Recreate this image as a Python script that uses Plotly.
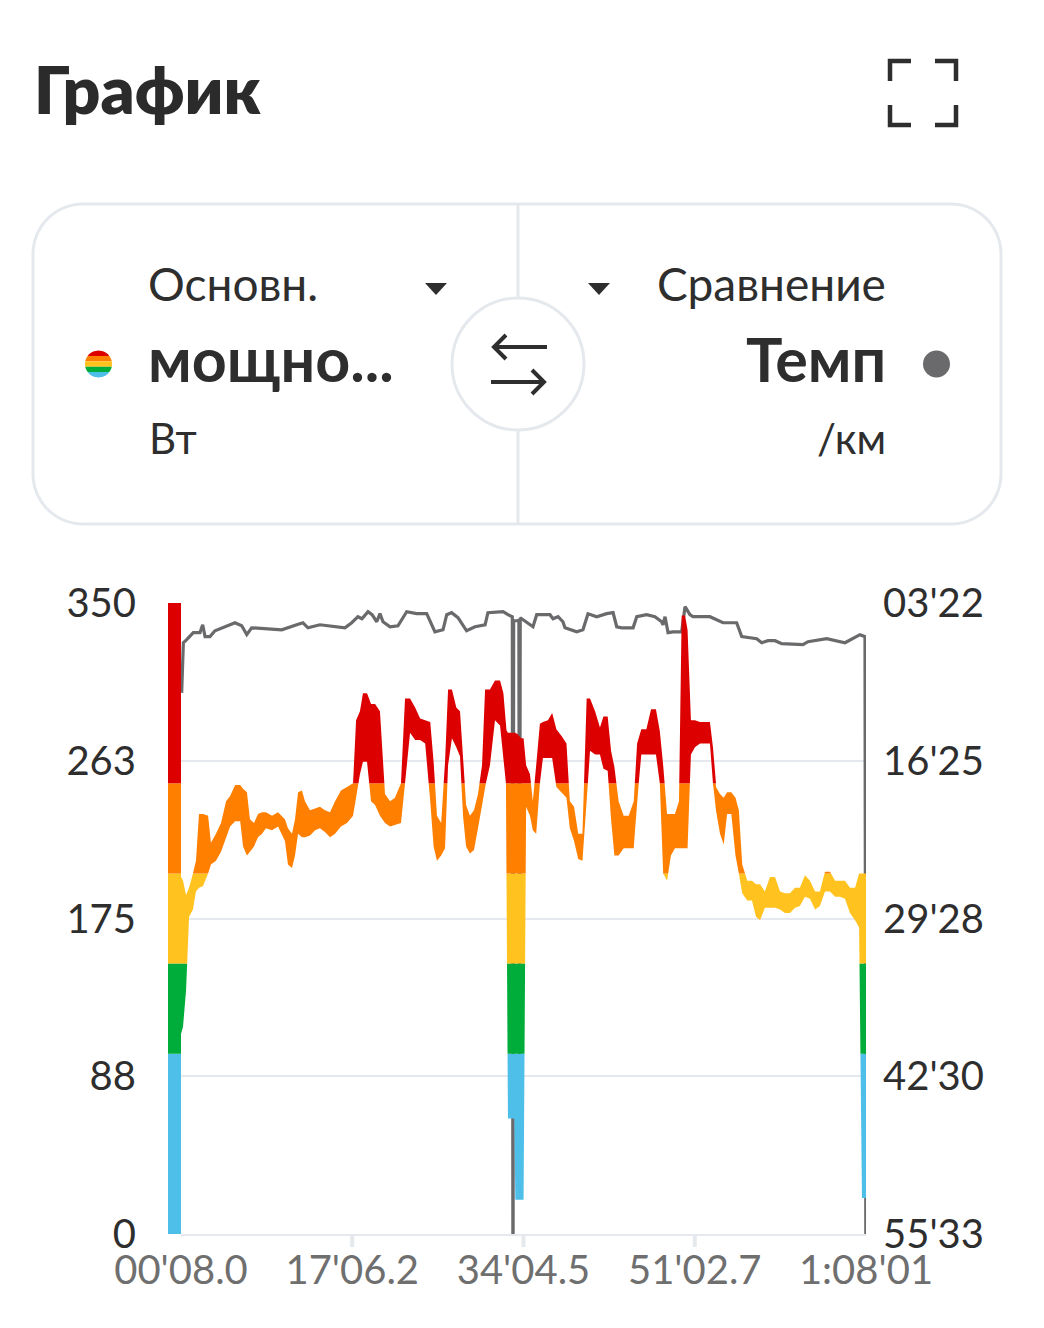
import numpy as np
import plotly.graph_objects as go

# ---------------- data ----------------
time_s = [8, 20, 38, 56, 79, 97, 115, 139, 169, 186, 216, 246, 276, 300, 330, 360, 377, 400, 418, 442,
          466, 490, 513, 549, 585, 626, 644, 668, 686, 704, 727, 745, 775, 805, 834, 864, 894, 924, 959, 995,
          1031, 1049, 1072, 1090, 1114, 1138, 1162, 1191, 1221, 1251, 1280, 1316, 1340, 1370, 1400, 1430, 1460, 1490, 1510, 1530,
          1555, 1578, 1596, 1619, 1645, 1667, 1685, 1703, 1726, 1750, 1774, 1798, 1816, 1845, 1875, 1905, 1925, 1940, 1952, 1970,
          1990, 1996, 2012, 2030, 2045, 2060, 2083, 2100, 2120, 2142, 2160, 2190, 2215, 2240, 2273, 2300, 2320, 2345, 2370, 2395,
          2420, 2440, 2470, 2499, 2520, 2545, 2565, 2585, 2610, 2640, 2670, 2700, 2720, 2745, 2775, 2803, 2832, 2855, 2875, 2898,
          2921, 2945, 2969, 2985, 3005, 3020, 3040, 3064, 3094, 3124, 3153, 3171, 3189, 3213, 3235, 3255, 3280, 3305, 3325, 3345,
          3375, 3403, 3427, 3451, 3480, 3510, 3540, 3570, 3599, 3629, 3659, 3688, 3718, 3748, 3778, 3807, 3837, 3867, 3897, 3926,
          3956, 3986, 4016, 4040, 4057, 4081]
power_hi = [198, 196, 188, 192, 200, 207, 233, 233, 232, 217, 222, 228, 240, 243, 249, 249, 247, 245, 230, 228,
            233, 234, 234, 232, 234, 230, 225, 222, 230, 245, 246, 240, 235, 236, 237, 235, 234, 240, 246, 248,
            250, 285, 290, 300, 300, 294, 294, 290, 244, 240, 242, 250, 297, 297, 292, 286, 285, 284, 262, 232,
            228, 262, 302, 302, 292, 290, 265, 238, 232, 235, 244, 260, 302, 302, 307, 307, 300, 280, 278, 278,
            278, 278, 277, 275, 275, 260, 255, 240, 260, 283, 284, 285, 289, 280, 276, 272, 240, 237, 222, 222,
            297, 297, 290, 281, 287, 287, 268, 259, 240, 232, 232, 240, 272, 280, 280, 291, 291, 279, 260, 233,
            233, 233, 240, 343, 343, 335, 285, 285, 284, 284, 284, 270, 248, 244, 242, 245, 245, 242, 235, 205,
            196, 196, 194, 194, 190, 198, 198, 190, 189, 189, 192, 192, 199, 196, 190, 190, 201, 201, 196, 196,
            196, 192, 192, 200, 200, 200]
power_lo = [111, 115, 135, 176, 180, 190, 192, 193, 200, 205, 207, 212, 220, 226, 229, 229, 215, 210, 212, 215,
            220, 222, 225, 224, 226, 218, 205, 203, 210, 222, 220, 220, 221, 224, 225, 223, 220, 222, 226, 228,
            232, 242, 255, 262, 262, 240, 238, 232, 228, 226, 227, 228, 250, 278, 274, 274, 272, 240, 215, 207,
            210, 214, 260, 275, 270, 265, 232, 215, 211, 213, 225, 238, 248, 260, 285, 282, 262, 250, 64, 64,
            64, 19, 19, 19, 19, 237, 232, 224, 222, 250, 264, 264, 264, 248, 245, 242, 225, 218, 208, 207,
            240, 268, 266, 266, 258, 257, 230, 210, 210, 214, 214, 214, 240, 266, 266, 266, 266, 250, 200, 196,
            210, 214, 214, 214, 214, 214, 266, 270, 272, 272, 272, 250, 235, 222, 216, 233, 233, 210, 200, 189,
            185, 185, 176, 174, 181, 181, 181, 180, 178, 178, 181, 182, 187, 186, 180, 182, 190, 190, 187, 187,
            186, 178, 174, 170, 20, 20]

pace_t = [12, 22, 42, 61, 81, 121, 137, 151, 180, 210, 280, 329, 369, 399, 428, 607, 696, 733, 763, 834,
          983, 1023, 1060, 1084, 1120, 1144, 1172, 1191, 1209, 1251, 1298, 1350, 1409, 1469, 1518, 1566, 1588, 1617, 1655, 1706,
          1756, 1816, 1833, 1923, 1952, 1978, 1982, 1986, 2012, 2017, 2021, 2025, 2101, 2123, 2202, 2220, 2250, 2279, 2291,
          2361, 2398, 2428, 2480, 2539, 2577, 2599, 2628, 2696, 2718, 2777, 2826, 2866, 2874, 2886, 2904, 2933, 2985, 3005, 3034,
          3052, 3153, 3193, 3231, 3312, 3342, 3431, 3461, 3498, 3540, 3580, 3706, 3736, 3847, 3956, 4004, 4045, 4075, 4081]
pace_s = [648, 399, 384, 369, 349, 349, 310, 369, 369, 340, 315, 300, 315, 359, 325, 335, 310, 300, 325, 310,
          325, 300, 270, 280, 245, 260, 295, 255, 295, 320, 315, 245, 255, 255, 345, 335, 260, 250, 275, 340,
          320, 310, 250, 245, 260, 270, 4000, 290, 290, 285, 2800, 275, 320, 260, 260, 280, 270, 295, 325,
          345, 335, 255, 270, 255, 250, 320, 325, 325, 270, 260, 270, 295, 310, 270, 349, 345, 345, 220, 260,
          270, 270, 285, 300, 300, 369, 379, 399, 389, 389, 404, 409, 394, 379, 399, 379, 359, 369, 4000]

zone_edges = [0, 100, 150, 200, 250, 350]
zone_colors = ['#4dbfe9', '#00ad3a', '#ffc21f', '#ff7f00', '#dc0000']

x_ticks = [8, 1026.2, 2044.5, 3062.7, 4081]
x_labels = ["00'08.0", "17'06.2", "34'04.5", "51'02.7", "1:08'01"]
power_ticks = [0, 87.5, 175, 262.5, 350]
power_labels = ['0', '88', '175', '263', '350']
pace_ticks = [3333, 2550.25, 1767.5, 984.75, 202]
pace_labels = ["55'33", "42'30", "29'28", "16'25", "03'22"]

# ---------------- layout geometry ----------------
W, H = 1044, 1328
PL, PR, PT, PB = 181, 866, 603, 1234
FONT = "Lato, 'Noto Sans', sans-serif"
DARK = '#2e2e2e'
GREY_TXT = '#6f6f6f'
GRID = '#e5e9ed'
PACE_COL = '#6a6a6d'


def fx(px):
    return (px - PL) / (PR - PL)


def fy(py):
    return (PB - py) / (PB - PT)


def path_from(pts, close=False):
    s = 'M ' + ' L '.join(f'{fx(x):.5f},{fy(y):.5f}' for x, y in pts)
    return s + (' Z' if close else '')


fig = go.Figure()

# pace line (primary y axis, drawn underneath)
fig.add_trace(go.Scatter(x=pace_t, y=pace_s, mode='lines', yaxis='y',
                         line=dict(color=PACE_COL, width=3.2), hoverinfo='skip', showlegend=False))

# power band coloured by zone: add the exact points where the band edges cross a zone
# boundary so each zone's clipped band joins its neighbours without gaps
tt, hh, ll = [time_s[0]], [power_hi[0]], [power_lo[0]]
for i in range(len(time_s) - 1):
    t0, t1 = time_s[i], time_s[i + 1]
    fracs = set()
    for arr in (power_hi, power_lo):
        v0, v1 = arr[i], arr[i + 1]
        for e in zone_edges[1:-1]:
            if (v0 - e) * (v1 - e) < 0:
                fracs.add((e - v0) / (v1 - v0))
    for f in sorted(fracs):
        tt.append(t0 + f * (t1 - t0))
        hh.append(power_hi[i] + f * (power_hi[i + 1] - power_hi[i]))
        ll.append(power_lo[i] + f * (power_lo[i + 1] - power_lo[i]))
    tt.append(t1)
    hh.append(power_hi[i + 1])
    ll.append(power_lo[i + 1])
hh = np.array(hh)
ll = np.array(ll)

for k, col in enumerate(zone_colors):
    a = zone_edges[k]
    b = zone_edges[k + 1] if k < len(zone_colors) - 1 else 10000
    fig.add_trace(go.Scatter(x=tt, y=np.clip(ll, a, b), mode='lines', yaxis='y2',
                             line=dict(width=0), hoverinfo='skip', showlegend=False))
    fig.add_trace(go.Scatter(x=tt, y=np.clip(hh, a, b), mode='lines', yaxis='y2',
                             line=dict(width=0), fill='tonexty', fillcolor=col,
                             hoverinfo='skip', showlegend=False))

shapes = []
# zone strip at left of plot
for k, col in enumerate(zone_colors):
    shapes.append(dict(type='rect', xref='paper', yref='paper', x0=fx(168), x1=fx(181),
                       y0=zone_edges[k] / zone_edges[-1], y1=zone_edges[k + 1] / zone_edges[-1],
                       fillcolor=col, line=dict(width=0), layer='above'))
# x tick marks (inner ticks only)
for v in x_ticks[1:-1]:
    xp = (v - x_ticks[0]) / (x_ticks[-1] - x_ticks[0])
    shapes.append(dict(type='line', xref='paper', yref='paper', x0=xp, x1=xp,
                       y0=fy(1234), y1=fy(1247), line=dict(color=GRID, width=4)))

# ---- header decorations ----
for pts in [[(890, 81), (890, 61), (911, 61)], [(935, 61), (956, 61), (956, 81)],
            [(890, 105), (890, 125), (911, 125)], [(935, 125), (956, 125), (956, 105)]]:
    shapes.append(dict(type='path', xref='paper', yref='paper', path=path_from(pts),
                       line=dict(color=DARK, width=4.5)))


def rrect(x0, y0, x1, y1, r, n=18):
    pts = []
    for cx, cy, a0, a1 in [(x1 - r, y0 + r, -90, 0), (x1 - r, y1 - r, 0, 90),
                           (x0 + r, y1 - r, 90, 180), (x0 + r, y0 + r, 180, 270)]:
        for a in np.linspace(np.radians(a0), np.radians(a1), n):
            pts.append((cx + r * np.cos(a), cy + r * np.sin(a)))
    return path_from(pts, close=True)


shapes.append(dict(type='path', xref='paper', yref='paper', path=rrect(33, 204, 1001, 524, 50),
                   line=dict(color=GRID, width=3), fillcolor='rgba(0,0,0,0)'))
shapes.append(dict(type='line', xref='paper', yref='paper', x0=fx(518), x1=fx(518), y0=fy(204), y1=fy(298),
                   line=dict(color=GRID, width=3)))
shapes.append(dict(type='line', xref='paper', yref='paper', x0=fx(518), x1=fx(518), y0=fy(431), y1=fy(524),
                   line=dict(color=GRID, width=3)))
shapes.append(dict(type='circle', xref='paper', yref='paper', x0=fx(518 - 66), x1=fx(518 + 66),
                   y0=fy(364 + 66), y1=fy(364 - 66), line=dict(color=GRID, width=3), fillcolor='white'))
for pts in [[(547, 347), (494, 347)], [(506, 335), (494, 347), (506, 359)],
            [(491, 382), (544, 382)], [(532, 370), (544, 382), (532, 394)]]:
    shapes.append(dict(type='path', xref='paper', yref='paper', path=path_from(pts),
                       line=dict(color=DARK, width=4)))
for cx in (436, 599):
    shapes.append(dict(type='path', xref='paper', yref='paper',
                       path=path_from([(cx - 11, 283), (cx + 11, 283), (cx, 295)], close=True),
                       fillcolor=DARK, line=dict(width=0)))
# rainbow dot
dcx, dcy, dr = 98.5, 364, 13.5
bands = np.linspace(dcy - dr, dcy + dr, len(zone_colors) + 1)
for i, col in enumerate(reversed(zone_colors)):
    ys = np.linspace(bands[i], bands[i + 1], 8)
    half = np.sqrt(np.clip(dr ** 2 - (ys - dcy) ** 2, 0, None))
    pts = [(dcx + h, y) for h, y in zip(half, ys)] + [(dcx - h, y) for h, y in zip(half[::-1], ys[::-1])]
    shapes.append(dict(type='path', xref='paper', yref='paper', path=path_from(pts, close=True),
                       fillcolor=col, line=dict(width=0)))
shapes.append(dict(type='circle', xref='paper', yref='paper', x0=fx(936.5 - 13.5), x1=fx(936.5 + 13.5),
                   y0=fy(364 + 13.5), y1=fy(364 - 13.5), fillcolor=PACE_COL, line=dict(width=0)))

annotations = []


def text(s, x, baseline, size, anchor='left', weight='normal', color=DARK):
    ymid = baseline - 0.387 * size
    annotations.append(dict(text=s, x=fx(x), y=fy(ymid), xref='paper', yref='paper',
                            xanchor=anchor, yanchor='middle', showarrow=False,
                            font=dict(family=FONT, size=size, color=color, weight=weight)))


text('График', 32, 114, 66, weight=800, color='#2b2b2b')
text('Основн.', 146, 301, 46)
text('Сравнение', 888, 301, 46, anchor='right')
text('мощно...', 146, 382, 61, weight='bold')
text('Темп', 888, 382, 61, anchor='right', weight='bold')
text('Вт', 147, 454, 42)
text('/км', 888, 454, 42, anchor='right')

fig.update_layout(
    width=W, height=H,
    margin=dict(l=PL, r=W - PR, t=PT, b=H - PB, pad=0),
    paper_bgcolor='white', plot_bgcolor='white',
    showlegend=False,
    font=dict(family=FONT, color=DARK),
    xaxis=dict(range=[x_ticks[0], x_ticks[-1]], tickmode='array', tickvals=x_ticks, ticktext=x_labels,
               showgrid=False, zeroline=False, showline=True, linecolor=GRID, linewidth=2,
               ticks='', ticklabelstandoff=0, tickfont=dict(size=40, color=GREY_TXT, family=FONT)),
    yaxis=dict(range=[pace_ticks[0], pace_ticks[-1]], side='right', tickmode='array',
               tickvals=pace_ticks, ticktext=pace_labels, showgrid=True, gridcolor=GRID, gridwidth=2,
               zeroline=False, showline=False, ticks='', ticklabelstandoff=16,
               tickfont=dict(size=40, color=DARK, family=FONT)),
    yaxis2=dict(range=[power_ticks[0], power_ticks[-1]], side='left', overlaying='y', tickmode='array',
                tickvals=power_ticks, ticktext=power_labels, showgrid=False, zeroline=False,
                showline=False, ticks='', ticklabelstandoff=44,
                tickfont=dict(size=40, color=DARK, family=FONT)),
    shapes=shapes,
    annotations=annotations,
)

fig.write_html("out.html", config={'displayModeBar': False},
               post_script="document.body.style.margin='0';")
